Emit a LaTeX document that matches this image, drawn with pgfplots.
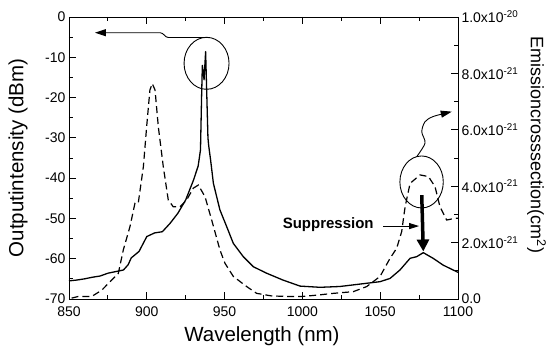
\documentclass[border=0pt]{standalone}
\usepackage{fontspec}
\setmainfont{Liberation Sans}
\usepackage{pgfplots}
\pgfplotsset{compat=1.18}
\usetikzlibrary{arrows.meta}

\pgfplotstableread{
x y
850 -65.5
855 -65.3
860 -65.0
865 -64.6
870 -64.3
875 -63.6
880 -63.2
885 -62.8
888 -61.5
890 -59.8
895 -58.2
900 -54.5
905 -53.6
910 -53.3
915 -51.2
920 -48.7
925 -45.4
930 -40.5
933 -37.0
934.5 -33.0
935.2 -20.0
935.7 -12.0
936.8 -15.6
937.8 -8.6
938.6 -20.0
939.3 -30.0
939.8 -32.0
941 -35.5
942.8 -41.3
947 -47.9
951.3 -52.0
955.6 -56.2
962 -59.5
968.5 -62.0
977 -63.6
987.5 -65.3
998.5 -66.8
1011.3 -67.1
1024 -66.9
1037 -66.3
1049.9 -65.7
1056.3 -64.9
1062.7 -62.8
1069.2 -59.9
1073.4 -59.5
1077.7 -58.5
1084 -59.9
1090.5 -61.6
1099 -63.2
1100 -63.4
}\solidtab

\pgfplotstableread{
x y
851.7 0.03
856 0.09
864.6 0.09
871 0.31
877.4 0.67
881.7 0.91
884.9 1.74
889.2 2.57
892.4 3.40
894.5 3.40
897.8 4.69
899.9 6.11
902 7.41
903.5 7.64
905.3 7.41
907.4 6.11
910.6 4.69
913.8 3.51
917 3.27
921.3 3.27
925.6 3.51
929.9 3.93
933.1 4.04
937.4 3.63
941.7 2.80
947 1.74
950.2 1.27
955.6 0.80
964.2 0.44
970.6 0.20
980 0.11
990 0.09
1000 0.09
1010 0.14
1019.9 0.20
1032.7 0.26
1041.3 0.44
1049.9 0.80
1056.3 1.44
1060.6 1.80
1063.8 2.39
1066 3.27
1069.2 4.10
1075.6 4.40
1081 4.34
1085.2 3.99
1088.4 3.27
1092.7 2.80
1098 2.86
1100 2.86
}\dashtab

\begin{document}
\begin{tikzpicture}
\pgfplotsset{
  every axis/.append style={
    scale only axis, width=389pt, height=282pt,
    xmin=850, xmax=1100,
    tick label style={font=\fontsize{14}{16}\selectfont},
    label style={font=\fontsize{20.5}{24}\selectfont},
    major tick length=7pt, minor tick length=4pt,
    tick align=inside,
    axis line style={line width=0.9pt},
    every tick/.style={line width=0.9pt, black},
    /pgf/number format/assume math mode=true,
    /pgf/number format/1000 sep={},
    clip=false,
  }
}
\begin{axis}[
  ymin=-70, ymax=0,
  ytick={-70,-60,...,0}, minor ytick={-65,-55,...,-5},
  xtick={850,900,...,1100}, minor xtick={875,925,...,1075},
  xtick pos=both, ytick pos=left,
  xticklabel style={yshift=-4pt},
  xlabel={Wavelength (nm)}, ylabel={Outputintensity (dBm)},
  xlabel style={at={(axis description cs:0.496,-0.131)}, anchor=center},
  ylabel style={at={(axis description cs:-0.131,0.5)}, anchor=center},
]
\addplot[black, line width=1.3pt, line join=round] table[x=x,y=y] {\solidtab};
\coordinate (bl) at (rel axis cs:0,0);
\coordinate (tr) at (rel axis cs:1,1);
% annotations
\draw[line width=0.9pt] (axis cs:938.4,-11.5) ellipse [x radius=22.5pt, y radius=26pt];
\draw[line width=0.9pt, -{Triangle[length=11pt,width=7pt]}] (axis cs:938.4,-5.1) -- (axis cs:914,-5.1) to[out=180,in=0] (axis cs:908.5,-3.9) -- (axis cs:866.7,-3.9);
\draw[line width=0.9pt] (axis cs:1076.6,-40.95) ellipse [x radius=21.7pt, y radius=26pt];
\draw[line width=0.9pt, -{Triangle[length=11pt,width=7pt]}] plot[smooth] coordinates {(axis cs:1073.4,-34.7) (axis cs:1078.8,-31.3) (axis cs:1076.7,-28.5) (axis cs:1078.8,-26.0) (axis cs:1084.1,-24.7) (axis cs:1096,-23.5)};
\draw[line width=3.5pt, -{Triangle[length=12pt,width=12pt]}] (axis cs:1076.7,-44.2) -- (axis cs:1077.7,-58.2);
\node[font=\bfseries\fontsize{15}{18}\selectfont] at (axis cs:1016.6,-51.6) {Suppression};
\draw[line width=0.9pt, -{Triangle[length=10pt,width=6pt]}] (axis cs:1051.8,-51.9) -- (axis cs:1075,-51.9);
\end{axis}
\begin{axis}[
  ymin=0, ymax=10,
  axis x line=none, axis y line*=right,
  y axis line style={-},
  ytick pos=right, yticklabel pos=right,
  ytick={0,2,...,10}, minor ytick={1,3,...,9},
  yticklabels={0.0, 2.0x10\textsuperscript{-21}, 4.0x10\textsuperscript{-21}, 6.0x10\textsuperscript{-21}, 8.0x10\textsuperscript{-21}, 1.0x10\textsuperscript{-20}},
  ylabel={Emissioncrosssection(cm\textsuperscript{2})},
  ylabel style={at={(axis description cs:1.202,0.546)}, anchor=center, rotate=180, font=\fontsize{18}{22}\selectfont},
]
\addplot[black, line width=1.2pt, dash pattern=on 7pt off 4pt] table[x=x,y=y] {\dashtab};
\end{axis}
\pgfresetboundingbox
\path ([shift={(-69pt,-57pt)}]bl) rectangle ([shift={(93pt,17pt)}]tr);
\end{tikzpicture}
\end{document}
